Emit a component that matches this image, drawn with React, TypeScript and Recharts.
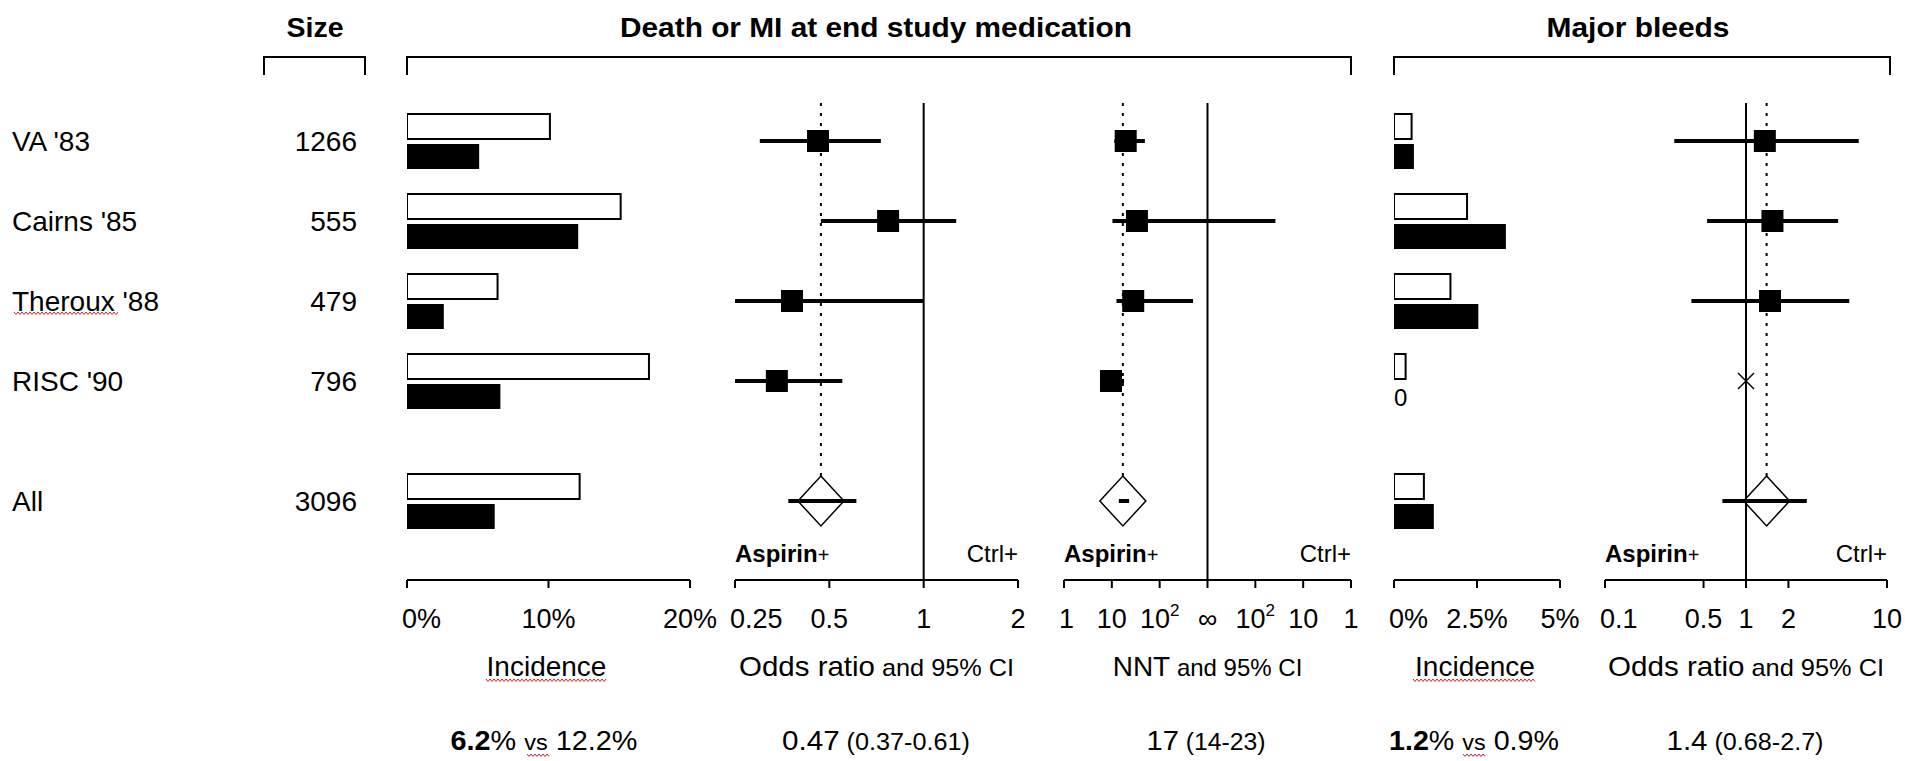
import React from 'react'
import { ComposedChart, Bar, Scatter, XAxis, YAxis, ReferenceLine } from 'recharts'

const W = 1905
const H = 761
const FONT = '"Liberation Sans", Arial, Helvetica, sans-serif'

// rows of the forest plot
const studies = ["VA '83", "Cairns '85", "Theroux '88", "RISC '90", 'All']
const rowPos = [0, 1, 2, 3, 4.5]
const sizes = [1266, 555, 479, 796, 3096]

// death or MI at end of study medication
const deathCtrl = [10.1, 15.1, 6.4, 17.1, 12.2]
const deathAsp = [5.1, 12.1, 2.6, 6.6, 6.2]
const deathOR = [0.46, 0.77, 0.38, 0.34, 0.47]
const deathOrLo = [0.3, 0.47, 0.25, 0.25, 0.37]
const deathOrHi = [0.73, 1.27, 1.0, 0.55, 0.61]
// number needed to treat (negative = number needed to harm)
const nnt = [19.5, 33.5, 28, 9.6, 17]
const nntLo = [11.3, 10.3, 12.5, 7, 14]
const nntHi = [49, -38, 500, 18, 23]

// major bleeds
const bleedCtrl = [0.53, 2.2, 1.7, 0.35, 0.9]
const bleedAsp = [0.6, 3.37, 2.54, 0, 1.2]
const bleedOR = [1.36, 1.54, 1.48, null, 1.4]
const bleedOrLo = [0.31, 0.53, 0.41, null, 0.68]
const bleedOrHi = [6.3, 4.5, 5.4, null, 2.7]

// axes
const incTicks = [0, 10, 20]
const incLabels = ['0%', '10%', '20%']
const orTicks = [0.25, 0.5, 1, 2]
const orLabels = ['0.25', '0.5', '1', '2']
const nntTickValues = [1, 10, 100, Infinity, -100, -10, -1]
const nntLabels = ['1', '10', '10²', '∞', '10²', '10', '1']
const bleedIncTicks = [0, 2.5, 5]
const bleedIncLabels = ['0%', '2.5%', '5%']
const bleedOrTicks = [0.1, 0.5, 1, 2, 10]
const bleedOrLabels = ['0.1', '0.5', '1', '2', '10']

// layout (px)
const PITCH = 80
const ROW0_Y = 141
const AXIS_Y = 580
const yDomain = [-1, (AXIS_Y - ROW0_Y) / PITCH]
const LINE_TOP = (103 - ROW0_Y) / PITCH
const DIA_W = 23
const DIA_H = 25
const BAR = 25
const BAR_GAP = 5

const panels = {
  deathInc: [407, 690],
  deathOr: [735, 1018],
  nnt: [1064, 1351],
  bleedInc: [1394, 1560],
  bleedOr: [1605, 1887],
}

// NNT axis: log scale folded around infinity
const nntT = (n: number) => (n === Infinity ? 0 : n > 0 ? -(3 - Math.log10(n)) : 3 - Math.log10(-n))
const nntTicks = nntTickValues.map(nntT)

const margin = (p: number[], yw = 0) => ({ top: ROW0_Y - PITCH, bottom: 0, left: p[0] - yw, right: W - p[1] })

const AxisTick = (props: any) => {
  const { x, y, payload, ticks, labels } = props
  const i = ticks.indexOf(payload.value)
  if (i < 0) return null
  const label: string = labels[i]
  const first = i === 0
  const sup = label.endsWith('²')
  return (
    <text x={first ? x - 5 : x} y={y + 38} textAnchor={first ? 'start' : 'middle'} fontSize={27} fontFamily={FONT} fill="#000">
      {sup ? (
        <>
          {label.slice(0, -1)}
          <tspan dy={-12} fontSize={17}>2</tspan>
        </>
      ) : label}
    </text>
  )
}

// study name + size on the left, and a "0" where the aspirin bar is empty
const RowTick = (props: any) => {
  const { y, payload, x0, asp, withNames } = props
  const i = rowPos.indexOf(payload.value)
  if (i < 0) return null
  return (
    <g fontFamily={FONT} fill="#000">
      {withNames && (
        <>
          <text x={12} y={y + 10} fontSize={28}>{studies[i]}</text>
          <text x={357} y={y + 10} fontSize={28} textAnchor="end">{sizes[i]}</text>
        </>
      )}
      {asp[i] === 0 && (
        <text x={x0} y={y + (BAR + BAR_GAP) / 2 + 10} fontSize={24}>0</text>
      )}
    </g>
  )
}

const Square = (props: any) => <rect x={props.cx - 11} y={props.cy - 11} width={22} height={22} fill="#000" />
const Diamond = (props: any) => {
  const { cx, cy } = props
  return <path d={`M${cx},${cy - DIA_H} L${cx + DIA_W},${cy} L${cx},${cy + DIA_H} L${cx - DIA_W},${cy} Z`} fill="none" stroke="#000" strokeWidth={1.5} />
}
const Cross = (props: any) => {
  const { cx, cy } = props
  return (
    <g stroke="#000" strokeWidth={1.5}>
      <line x1={cx - 8} y1={cy - 8} x2={cx + 8} y2={cy + 8} />
      <line x1={cx - 8} y1={cy + 8} x2={cx + 8} y2={cy - 8} />
    </g>
  )
}

const xAxisProps = {
  type: 'number' as const,
  height: H - AXIS_Y,
  axisLine: { stroke: '#000', strokeWidth: 2 },
  tickLine: { stroke: '#000', strokeWidth: 2 },
  tickSize: 8,
  interval: 0 as const,
  allowDataOverflow: true,
}

const Layer = ({ children }: { children: React.ReactNode }) => (
  <div style={{ position: 'absolute', left: 0, top: 0 }}>{children}</div>
)

const IncidencePanel = ({ p, ctrl, asp, ticks, labels, domain, rowLabels }: any) => {
  const data = rowPos.map((pos, i) => ({ pos, ctrl: ctrl[i], asp: asp[i] }))
  return (
    <Layer>
      <ComposedChart layout="vertical" width={W} height={H} data={data} margin={margin(p, 1)} barGap={BAR_GAP}>
        <XAxis {...xAxisProps} domain={domain} ticks={ticks} tick={(t: any) => <AxisTick {...t} ticks={ticks} labels={labels} />} />
        {/* in vertical layout the y axis already runs top to bottom */}
        <YAxis
          type="number"
          dataKey="pos"
          domain={yDomain}
          allowDataOverflow
          ticks={rowPos}
          width={1}
          axisLine={false}
          tickLine={false}
          tick={(t: any) => <RowTick {...t} x0={p[0]} asp={asp} withNames={rowLabels} />}
        />
        <Bar dataKey="ctrl" fill="#fff" stroke="#000" strokeWidth={2} barSize={BAR} isAnimationActive={false} />
        <Bar dataKey="asp" fill="#000" barSize={BAR} isAnimationActive={false} />
      </ComposedChart>
    </Layer>
  )
}

const EffectPanel = ({ p, mid, lo, hi, ticks, labels, domain, scale, nullValue, pooled, crossRows }: any) => {
  const studyPts = rowPos.slice(0, 4).map((pos, i) => ({ x: mid[i], pos })).filter((d) => d.x != null)
  const pooledPt = [{ x: mid[4], pos: rowPos[4] }]
  const crossPts = (crossRows || []).map((i: number) => ({ x: nullValue, pos: rowPos[i] }))
  return (
    <Layer>
      <ComposedChart width={W} height={H} margin={margin(p)}>
        <XAxis {...xAxisProps} dataKey="x" scale={scale} domain={domain} ticks={ticks} tick={(t: any) => <AxisTick {...t} ticks={ticks} labels={labels} />} />
        <YAxis type="number" dataKey="pos" domain={yDomain} reversed allowDataOverflow hide />
        <ReferenceLine
          segment={[{ x: nullValue, y: LINE_TOP }, { x: nullValue, y: yDomain[1] }]}
          stroke="#000"
          strokeWidth={2}
          ifOverflow="visible"
        />
        <ReferenceLine
          segment={[{ x: pooled, y: LINE_TOP }, { x: pooled, y: rowPos[4] - DIA_H / PITCH }]}
          stroke="#000"
          strokeWidth={2}
          strokeDasharray="3 7"
          ifOverflow="visible"
        />
        {rowPos.map((pos, i) =>
          lo[i] == null ? null : (
            <ReferenceLine
              key={i}
              segment={[{ x: lo[i], y: pos }, { x: hi[i], y: pos }]}
              stroke="#000"
              strokeWidth={4}
              ifOverflow="visible"
            />
          )
        )}
        <Scatter data={studyPts} shape={Square} isAnimationActive={false} />
        <Scatter data={pooledPt} shape={Diamond} isAnimationActive={false} />
        {crossPts.length > 0 && <Scatter data={crossPts} shape={Cross} isAnimationActive={false} />}
      </ComposedChart>
    </Layer>
  )
}

const Squiggle = ({ x1, x2, y }: { x1: number; x2: number; y: number }) => {
  let d = `M${x1},${y}`
  for (let x = x1 + 2, k = 1; x <= x2; x += 2, k++) d += ` L${x},${y + (k % 2 ? 2.5 : 0)}`
  return <path d={d} fill="none" stroke="#e02020" strokeWidth={1} />
}

const mid = (p: number[]) => (p[0] + p[1]) / 2

const Overlay = () => {
  const brackets = [[264, 365], [407, 1351], [1394, 1890]]
  const sidePanels = [panels.deathOr, panels.nnt, panels.bleedOr]
  return (
    <svg width={W} height={H} style={{ position: 'absolute', left: 0, top: 0, pointerEvents: 'none' }} fontFamily={FONT} fill="#000">
      {brackets.map(([a, b], i) => (
        <path key={i} d={`M${a},75 L${a},57 L${b},57 L${b},75`} fill="none" stroke="#000" strokeWidth={2} />
      ))}
      <g fontWeight="bold" fontSize={28} textAnchor="middle">
        <text x={315} y={37} textLength={57} lengthAdjust="spacingAndGlyphs">Size</text>
        <text x={876} y={37} textLength={512} lengthAdjust="spacingAndGlyphs">Death or MI at end study medication</text>
        <text x={1638} y={37} textLength={183} lengthAdjust="spacingAndGlyphs">Major bleeds</text>
      </g>
      {sidePanels.map((p, i) => (
        <g key={i} fontSize={24}>
          <text x={p[0]} y={562}>
            <tspan fontWeight="bold">Aspirin</tspan>
            <tspan fontSize={20}>+</tspan>
          </text>
          <text x={p[1]} y={562} textAnchor="end">Ctrl+</text>
        </g>
      ))}
      <g fontSize={28} textAnchor="middle">
        <text x={mid(panels.deathInc) - 2} y={676}>Incidence</text>
        <text x={mid(panels.deathOr)} y={676} textLength={275} lengthAdjust="spacingAndGlyphs">
          Odds ratio<tspan fontSize={24}> and 95% CI</tspan>
        </text>
        <text x={mid(panels.nnt)} y={676}>
          NNT<tspan fontSize={24}> and 95% CI</tspan>
        </text>
        <text x={mid(panels.bleedInc) - 2} y={676}>Incidence</text>
        <text x={mid(panels.bleedOr)} y={676} textLength={276} lengthAdjust="spacingAndGlyphs">
          Odds ratio<tspan fontSize={24}> and 95% CI</tspan>
        </text>
      </g>
      <g fontSize={27} textAnchor="middle">
        <text x={544} y={750} textLength={187} lengthAdjust="spacingAndGlyphs">
          <tspan fontWeight="bold">{deathAsp[4].toFixed(1)}</tspan>% <tspan fontSize={22}>vs</tspan> {deathCtrl[4].toFixed(1)}%
        </text>
        <text x={876} y={750} textLength={188} lengthAdjust="spacingAndGlyphs">
          {deathOR[4]}<tspan fontSize={23}> ({deathOrLo[4]}-{deathOrHi[4]})</tspan>
        </text>
        <text x={1206} y={750} textLength={119} lengthAdjust="spacingAndGlyphs">
          {nnt[4]}<tspan fontSize={23}> ({nntLo[4]}-{nntHi[4]})</tspan>
        </text>
        <text x={1474} y={750} textLength={170} lengthAdjust="spacingAndGlyphs">
          <tspan fontWeight="bold">{bleedAsp[4].toFixed(1)}</tspan>% <tspan fontSize={22}>vs</tspan> {bleedCtrl[4].toFixed(1)}%
        </text>
        <text x={1745} y={750} textLength={157} lengthAdjust="spacingAndGlyphs">
          {bleedOR[4]}<tspan fontSize={23}> ({bleedOrLo[4]}-{bleedOrHi[4]})</tspan>
        </text>
      </g>
      <Squiggle x1={14} x2={118} y={312} />
      <Squiggle x1={486} x2={606} y={679} />
      <Squiggle x1={1413} x2={1535} y={679} />
      <Squiggle x1={527} x2={549} y={754} />
      <Squiggle x1={1463} x2={1485} y={754} />
    </svg>
  )
}

export default function App() {
  return (
    <div style={{ position: 'absolute', left: 0, top: 0, width: W, height: H, background: '#fff', overflow: 'hidden' }}>
      <IncidencePanel p={panels.deathInc} ctrl={deathCtrl} asp={deathAsp} ticks={incTicks} labels={incLabels} domain={[0, 20]} rowLabels />
      <EffectPanel
        p={panels.deathOr}
        mid={deathOR}
        lo={deathOrLo}
        hi={deathOrHi}
        ticks={orTicks}
        labels={orLabels}
        domain={[0.25, 2]}
        scale="log"
        nullValue={1}
        pooled={deathOR[4]}
      />
      <EffectPanel
        p={panels.nnt}
        mid={nnt.map(nntT)}
        lo={nntLo.map(nntT)}
        hi={nntHi.map(nntT)}
        ticks={nntTicks}
        labels={nntLabels}
        domain={[-3, 3]}
        scale="linear"
        nullValue={0}
        pooled={nntT(nnt[4])}
      />
      <IncidencePanel p={panels.bleedInc} ctrl={bleedCtrl} asp={bleedAsp} ticks={bleedIncTicks} labels={bleedIncLabels} domain={[0, 5]} />
      <EffectPanel
        p={panels.bleedOr}
        mid={bleedOR}
        lo={bleedOrLo}
        hi={bleedOrHi}
        ticks={bleedOrTicks}
        labels={bleedOrLabels}
        domain={[0.1, 10]}
        scale="log"
        nullValue={1}
        pooled={bleedOR[4]}
        crossRows={[3]}
      />
      <Overlay />
    </div>
  )
}
